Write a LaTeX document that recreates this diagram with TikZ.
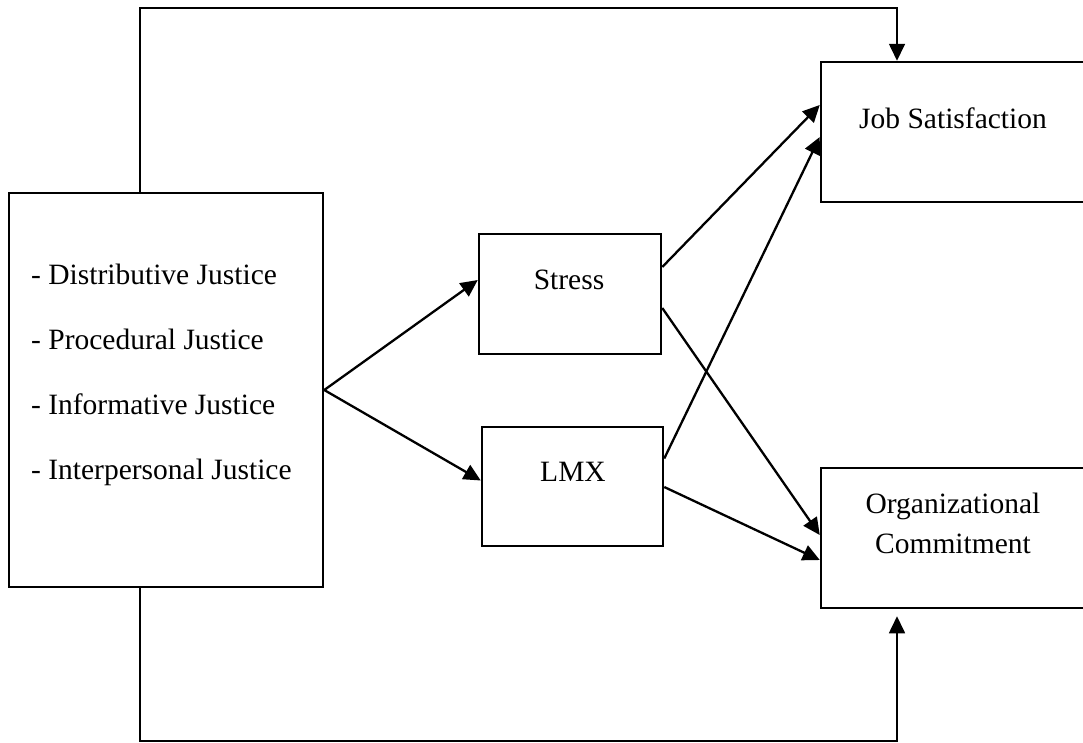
\documentclass[tikz,border=0pt]{standalone}
\usepackage{fontspec}
\setmainfont{Liberation Serif}
\usetikzlibrary{arrows.meta,positioning,calc}

\begin{document}
\begin{tikzpicture}[x=1pt,y=-1pt,->,>={Triangle[length=17pt,width=16pt]},line width=2.3pt,font=\fontsize{29.5}{65}\selectfont]
\tikzstyle{box}=[draw=black,line width=2.5pt,inner sep=0pt]
\tikzstyle{txt}=[inner sep=0pt]
\tikzstyle{link}=[line width=1.7pt]
\useasboundingbox (0,0) rectangle (1083,742);
\clip (0,0) rectangle (1083,742);
% boxes
\node[box,minimum width=314pt,minimum height=394pt] (J) at (166,390) {};
\node[txt,anchor=west,align=left] (Jtxt) at (30,375) {- Distributive Justice\\- Procedural Justice\\- Informative Justice\\- Interpersonal Justice};
\node[box,minimum width=182pt,minimum height=120pt] (S) at (570,294) {};
\node[txt] (Stxt) at (569,280) {Stress};
\node[box,minimum width=181pt,minimum height=119pt] (L) at (572.5,486.5) {};
\node[txt] (Ltxt) at (573,472) {LMX};
\node[box,minimum width=269pt,minimum height=140pt] (JS) at (955.5,132) {};
\node[txt] (JStxt) at (953,118) {Job Satisfaction};
\node[box,minimum width=269pt,minimum height=140pt] (OC) at (955.5,538) {};
\node[txt,align=center,font=\fontsize{29.5}{40}\selectfont] (OCtxt) at (953,523) {Organizational\\Commitment};
\coordinate (top) at (140,8);
\coordinate (bot) at (140,741);
% paths
\path (J.east) edge ([yshift=14pt]S.west)
               edge ([yshift=6pt]L.west)
      ([yshift=27pt]S.east) edge ([yshift=27pt]JS.west)
      ([yshift=-14pt]S.east) edge ([yshift=3pt]OC.west)
      ([yshift=28pt]L.east) edge ([yshift=-5pt]JS.west)
      ([yshift=-0.5pt]L.east) edge ([yshift=-22pt]OC.west);
\draw[link] ([xshift=-26pt]J.north) -- (top) -| ([xshift=-58.5pt]JS.north);
\draw[link,shorten >=7pt] ([xshift=-26pt]J.south) -- (bot) -| ([xshift=-58.5pt]OC.south);
\end{tikzpicture}
\end{document}
